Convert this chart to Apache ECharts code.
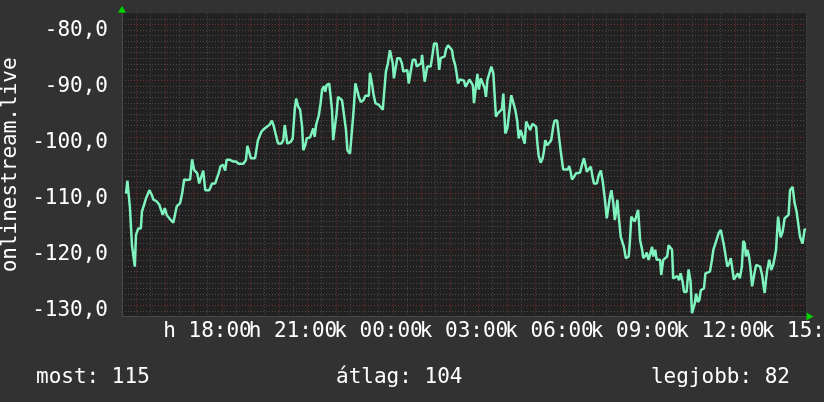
<!DOCTYPE html>
<html>
<head>
<meta charset="utf-8">
<script src="https://cdn.jsdelivr.net/npm/echarts@6/dist/echarts.min.js"></script>
<style>
  html, body { margin: 0; padding: 0; background: #323232; }
  #chart { width: 824px; height: 402px; }
</style>
</head>
<body>
<div id="chart"></div>
<script>
// hours since Monday 00:00 (24 = Tuesday 00:00)
const hours = [
  15.14, 15.19, 15.24, 15.28, 15.35, 15.45, 15.49, 15.57, 15.66, 15.70, 15.77, 15.84, 15.96,
  16.05, 16.10, 16.22, 16.31, 16.43, 16.50, 16.57, 16.64, 16.71, 16.80, 16.87, 16.92,
  17.04, 17.11, 17.18, 17.27, 17.39, 17.46, 17.53, 17.64, 17.71, 17.78, 17.85, 17.92, 17.99,
  18.06, 18.11, 18.16, 18.27, 18.39, 18.46, 18.55, 18.62, 18.67, 18.79, 18.91,
  19.00, 19.09, 19.26, 19.35, 19.40, 19.52, 19.67, 19.73, 19.77, 19.84, 19.89, 19.96,
  20.08, 20.17, 20.26, 20.33, 20.38, 20.43, 20.48, 20.59, 20.66, 20.71, 20.75, 20.80, 20.92, 20.99,
  21.06, 21.11, 21.18, 21.25, 21.32, 21.36, 21.43, 21.48, 21.60, 21.66, 21.71, 21.76, 21.81, 21.90, 21.97,
  22.02, 22.09, 22.13, 22.18, 22.27, 22.32, 22.37, 22.41, 22.48, 22.53, 22.58, 22.65, 22.72, 22.79, 22.86, 22.91,
  23.00, 23.07, 23.12, 23.19, 23.26, 23.31, 23.38, 23.47, 23.54, 23.66, 23.70, 23.77, 23.82, 23.89,
  24.01, 24.08, 24.15, 24.19, 24.26, 24.33, 24.40, 24.45, 24.50, 24.54, 24.59, 24.66, 24.75, 24.82, 24.87, 24.94,
  25.01, 25.06, 25.13, 25.20, 25.29, 25.34, 25.41, 25.50, 25.53, 25.57, 25.62, 25.67, 25.71, 25.76, 25.83, 25.90, 25.95,
  26.04, 26.09, 26.13, 26.18, 26.32, 26.37, 26.44, 26.51, 26.58, 26.62, 26.69, 26.74, 26.79, 26.86, 26.93,
  27.00, 27.05, 27.12, 27.19, 27.26, 27.31, 27.35, 27.42, 27.47, 27.52, 27.59, 27.66, 27.73, 27.77, 27.82, 27.89, 27.96,
  28.03, 28.08, 28.12, 28.19, 28.26, 28.33, 28.38, 28.45, 28.52, 28.59, 28.66, 28.73, 28.80, 28.87, 28.92, 28.99,
  29.06, 29.13, 29.18, 29.25, 29.32, 29.36, 29.41, 29.48, 29.53, 29.57, 29.62, 29.69, 29.76, 29.81, 29.85, 29.92, 29.99,
  30.06, 30.13, 30.18, 30.27, 30.34, 30.41, 30.48, 30.55, 30.65, 30.69, 30.74, 30.79, 30.86, 30.93,
  31.00, 31.07, 31.14, 31.21, 31.26, 31.31, 31.38, 31.45, 31.52, 31.56, 31.66, 31.73, 31.80, 31.87, 31.94,
  32.01, 32.08, 32.12, 32.17, 32.24, 32.29, 32.33, 32.38, 32.43, 32.50, 32.57, 32.61, 32.68, 32.78, 32.82, 32.87, 32.94, 32.99,
  33.06, 33.11, 33.18, 33.25, 33.29, 33.36, 33.41, 33.48, 33.55, 33.60, 33.64, 33.71, 33.76, 33.88, 33.92, 33.99,
  34.06, 34.13, 34.18, 34.25, 34.30, 34.34, 34.41, 34.48, 34.55, 34.60, 34.67, 34.72, 34.81, 34.88, 34.95,
  35.00, 35.05, 35.10, 35.14, 35.21, 35.26, 35.31, 35.38, 35.42, 35.47, 35.54, 35.63, 35.70, 35.75, 35.82, 35.89, 35.94,
  36.01, 36.08, 36.12, 36.19, 36.24, 36.31, 36.36, 36.43, 36.47, 36.54, 36.61, 36.68, 36.75, 36.80, 36.85, 36.89, 36.94, 36.99,
  37.04, 37.11, 37.18, 37.25, 37.32, 37.39, 37.46, 37.50, 37.55, 37.60, 37.64, 37.71, 37.78, 37.85, 37.90, 37.95,
  38.02, 38.06, 38.11, 38.18, 38.25, 38.32, 38.39, 38.44, 38.53, 38.60, 38.67, 38.74, 38.79, 38.88, 38.95, 39.00
]

const signal = [
  -109.1, -106.8, -106.8, -111.7, -118.3, -122.1, -116.5, -115.3, -115.3, -112.3, -112.3, -110.0, -108.5,
  -109.4, -110.2, -110.5, -111.1, -112.9, -111.7, -112.9, -112.6, -113.8, -114.3, -114.3, -111.4,
  -110.8, -109.1, -106.6, -106.7, -106.6, -103.0, -104.9, -105.5, -107.3, -107.0, -105.0, -108.5, -108.3,
  -108.5, -107.9, -107.3, -107.3, -105.5, -104.2, -104.0, -105.0, -103.1, -103.1, -103.4,
  -103.4, -103.8, -103.8, -103.1, -100.6, -102.8, -102.8, -102.5, -99.6, -99.3, -98.1, -97.7,
  -97.2, -96.9, -96.1, -97.2, -97.2, -99.3, -100.2, -100.2, -99.6, -96.9, -96.9, -100.2, -99.9, -99.3,
  -94.2, -92.2, -93.6, -94.2, -97.2, -101.4, -100.5, -99.3, -99.1, -99.0, -97.5, -99.0, -96.9, -95.3, -93.0,
  -90.6, -90.0, -91.0, -89.8, -89.5, -89.5, -94.2, -99.6, -99.6, -94.8, -91.9, -91.8, -92.5, -95.1, -97.8, -101.4,
  -102.0, -102.0, -94.8, -89.5, -89.5, -91.9, -92.8, -92.5, -91.7, -91.7, -87.6, -89.5, -91.3, -93.0,
  -93.3, -93.6, -94.2, -91.6, -87.4, -85.9, -83.6, -83.3, -85.9, -88.6, -88.6, -85.0, -85.0, -85.9, -87.4, -87.4,
  -87.1, -89.5, -89.8, -85.3, -85.3, -86.5, -86.5, -85.9, -84.4, -86.5, -89.2, -88.9, -86.5, -86.8, -86.5, -84.2, -82.4,
  -82.4, -84.8, -87.1, -85.0, -84.7, -83.4, -82.7, -82.8, -83.6, -85.0, -86.2, -87.7, -89.5, -88.8, -88.9,
  -89.0, -90.1, -89.5, -88.8, -88.9, -89.8, -93.0, -93.0, -87.8, -90.6, -88.6, -88.8, -90.4, -91.9, -88.9, -88.6, -86.5,
  -87.7, -88.0, -95.4, -94.8, -95.1, -94.1, -91.3, -98.4, -97.5, -97.2, -91.6, -91.6, -94.2, -96.3, -99.3, -97.8,
  -99.0, -100.2, -96.3, -96.0, -97.8, -97.2, -96.7, -96.9, -97.2, -99.9, -102.4, -103.6, -102.8, -101.4, -99.6, -100.5, -100.8,
  -99.6, -97.2, -96.1, -96.1, -99.3, -102.2, -104.8, -104.8, -104.8, -104.2, -105.2, -106.6, -106.1, -105.5,
  -105.4, -105.4, -104.0, -102.8, -104.0, -105.2, -105.4, -104.3, -106.4, -107.3, -107.3, -105.8, -105.0, -107.0, -110.0,
  -113.5, -113.5, -109.7, -108.5, -110.8, -113.8, -112.6, -110.2, -113.2, -116.8, -117.1, -118.6, -120.6, -120.3, -117.7, -113.2, -113.2, -114.1,
  -114.1, -112.0, -117.4, -119.1, -120.6, -120.2, -119.6, -120.9, -120.9, -118.6, -120.3, -119.1, -120.9, -120.9, -123.6, -120.9,
  -120.6, -120.3, -118.3, -118.6, -119.1, -124.2, -123.9, -123.8, -124.5, -123.3, -124.8, -126.6, -126.6, -122.6, -124.8,
  -130.4, -130.4, -128.6, -126.9, -128.4, -128.0, -126.3, -126.3, -126.0, -123.3, -123.2, -123.0, -120.9, -119.1, -118.0, -118.0, -116.1,
  -115.6, -115.6, -118.3, -118.6, -122.1, -121.5, -120.6, -120.9, -124.4, -124.2, -123.3, -124.2, -122.1, -117.5, -118.0, -120.3, -119.1, -120.0,
  -121.8, -125.6, -123.6, -121.8, -121.8, -122.1, -123.6, -125.1, -126.8, -124.2, -122.7, -120.9, -122.7, -121.8, -121.5, -119.1,
  -113.2, -113.1, -116.9, -115.9, -113.5, -113.2, -112.9, -108.5, -107.9, -110.8, -112.3, -112.6, -116.8, -118.0, -115.5, -115.5
]

// label text for each 3-hour mark (hu locale: h = hétfő, k = kedd)
const xLabels = {
  18: 'h 18:00', 21: 'h 21:00', 24: 'k 00:00', 27: 'k 03:00',
  30: 'k 06:00', 33: 'k 09:00', 36: 'k 12:00', 39: 'k 15:00'
}
const yLabelValues = [-130, -120, -110, -100, -90, -80]
const summary = { most: 115, atlag: 104, legjobb: 82 }

const FONT = 'DejaVu Sans Mono'
const FONT_SIZE = 21
const MAJOR = '#7a2c2c'
const MINOR = '#4b4b4b'
const ARROW = '#00d000'

const chart = echarts.init(document.getElementById('chart'), null, { renderer: 'canvas' })

const points = hours.map((h, i) => [h, signal[i]])

// y split line colors: min is -131, so index 1 (-130) and every 10th after it is major
const yColors = []
for (let i = 0; i < 10; i++) yColors.push(i === 1 ? MAJOR : MINOR)

const textStyle = { color: '#ffffff', fontFamily: FONT, fontSize: FONT_SIZE, fontWeight: 'normal' }

chart.setOption({
  backgroundColor: '#323232',
  animation: false,
  grid: {
    left: 122,
    top: 13.2,
    width: 684,
    height: 303.4,
    show: true,
    backgroundColor: '#212121',
    borderWidth: 0,
    containLabel: false,
    outerBoundsMode: 'none'
  },
  title: [
    { text: 'most: ' + summary.most, left: 31, top: 362, textStyle },
    { text: 'átlag: ' + summary.atlag, left: 331, top: 362, textStyle },
    { text: 'legjobb: ' + summary.legjobb, right: 29, top: 362, textStyle }
  ],
  xAxis: [
    {
      type: 'value',
      min: 15,
      max: 39,
      interval: 0.5,
      axisLine: { show: true, onZero: false, lineStyle: { color: '#4a4a4a', width: 1 } },
      axisTick: { show: false },
      splitLine: {
        show: true,
        showMinLine: false,
        lineStyle: { color: [MAJOR, MINOR], type: [1, 2], width: 1 }
      },
      axisLabel: {
        color: '#ffffff',
        fontFamily: FONT,
        fontSize: FONT_SIZE,
        margin: 4,
        hideOverlap: false,
        showMinLabel: true,
        showMaxLabel: true,
        formatter: v => xLabels[v] || ''
      }
    },
    {
      type: 'value',
      min: 15,
      max: 39,
      position: 'bottom',
      axisLine: {
        show: true, onZero: false,
        lineStyle: { color: ARROW, width: 0 },
        symbol: ['none', 'triangle'],
        symbolSize: [8, 7],
        symbolOffset: [0, 4]
      },
      axisTick: { show: false },
      axisLabel: { show: false },
      splitLine: { show: false }
    }
  ],
  yAxis: [
    {
      type: 'value',
      min: -131,
      max: -77,
      interval: 1,
      name: 'onlinestream.live',
      nameLocation: 'middle',
      nameGap: 99,
      nameRotate: 90,
      nameTextStyle: { color: '#ffffff', fontFamily: FONT, fontSize: FONT_SIZE },
      axisLine: { show: true, onZero: false, lineStyle: { color: '#4a4a4a', width: 1 } },
      axisTick: { show: false },
      splitLine: {
        show: true,
        showMinLine: false,
        showMaxLine: false,
        lineStyle: { color: yColors, type: [1, 2], width: 1 }
      },
      axisLabel: {
        color: '#ffffff',
        fontFamily: FONT,
        fontSize: FONT_SIZE,
        margin: 14,
        hideOverlap: false,
        formatter: v => yLabelValues.includes(v) ? v.toFixed(1).replace('.', ',') : ''
      }
    },
    {
      type: 'value',
      min: -131,
      max: -77,
      position: 'left',
      axisLine: {
        show: true, onZero: false,
        lineStyle: { color: ARROW, width: 0 },
        symbol: ['none', 'triangle'],
        symbolSize: [8, 7],
        symbolOffset: [0, 4]
      },
      axisTick: { show: false },
      axisLabel: { show: false },
      splitLine: { show: false }
    }
  ],
  series: [
    {
      type: 'line',
      data: points,
      xAxisIndex: 0,
      yAxisIndex: 0,
      showSymbol: false,
      lineStyle: { color: '#7ff3be', width: 2.5 },
      z: 5
    }
  ]
})
</script>
</body>
</html>
